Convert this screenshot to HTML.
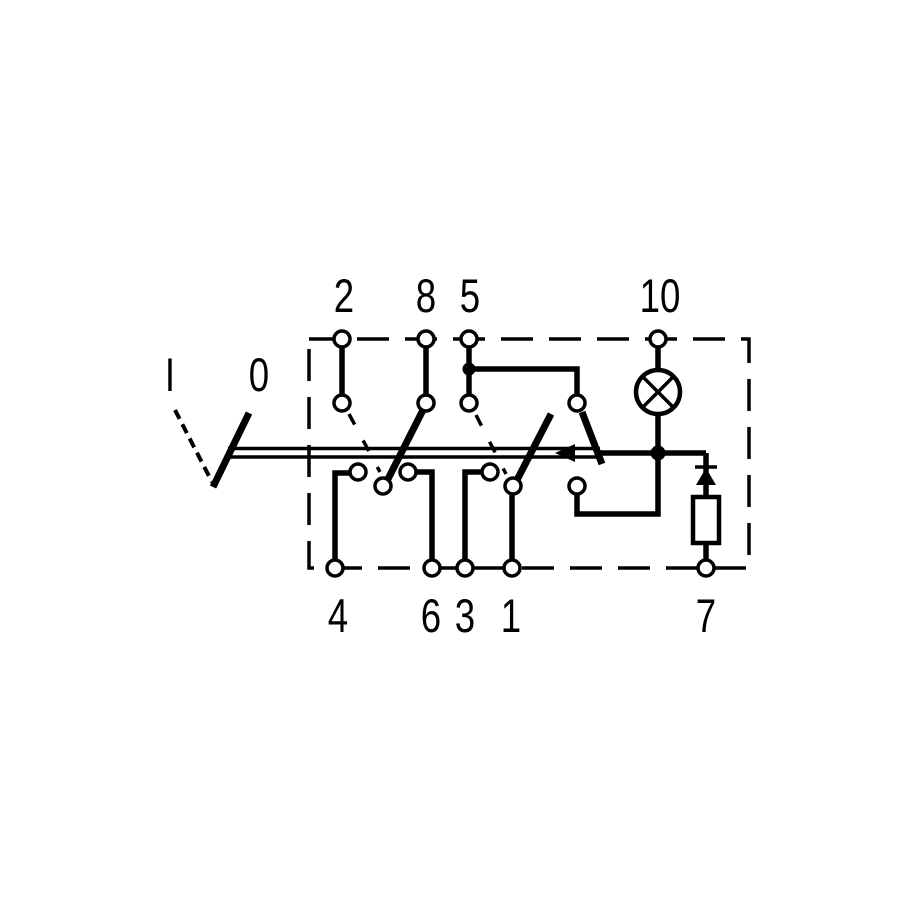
<!DOCTYPE html>
<html><head><style>html,body{margin:0;padding:0;background:#fff}</style></head><body>
<svg width="915" height="915" viewBox="0 0 915 915" xmlns="http://www.w3.org/2000/svg">
<g fill="none" stroke="#000">
<!-- border -->
<rect x="309" y="339" width="440" height="229" stroke-width="3.5" stroke-dasharray="32 16"/>
<!-- lever -->
<line x1="213" y1="487" x2="249" y2="413" stroke-width="7"/>
<line x1="175" y1="410" x2="212" y2="482" stroke-width="4" stroke-dasharray="10 6"/>
<!-- double line shaft -->
<line x1="228" y1="448.5" x2="600" y2="448.5" stroke-width="3.5"/>
<line x1="230" y1="457" x2="600" y2="457" stroke-width="3.5"/>
<!-- switch 1 -->
<line x1="342" y1="339" x2="342" y2="403" stroke-width="5.5"/>
<line x1="349" y1="414" x2="380" y2="472" stroke-width="3.5" stroke-dasharray="12 18"/>
<line x1="426" y1="339" x2="426" y2="403" stroke-width="5.5"/>
<line x1="423" y1="410" x2="387" y2="481" stroke-width="7"/>
<polyline points="357,473 335,473 335,568" stroke-width="5.5"/>
<polyline points="408,472 432,472 432,568" stroke-width="5.5"/>
<!-- switch 2 -->
<line x1="469" y1="339" x2="469" y2="403" stroke-width="5.5"/>
<polyline points="469,369 577,369 577,403" stroke-width="5.5"/>
<line x1="476" y1="415" x2="506" y2="474" stroke-width="3.5" stroke-dasharray="12 18"/>
<line x1="551" y1="414" x2="517" y2="480" stroke-width="7"/>
<polyline points="490,472 465,472 465,568" stroke-width="5.5"/>
<line x1="512" y1="485" x2="512" y2="568" stroke-width="5.5"/>
<!-- switch 3 -->
<line x1="582" y1="412" x2="602" y2="464" stroke-width="7"/>
<line x1="600" y1="453" x2="706" y2="453" stroke-width="5.5"/>
<polyline points="577,485 577,514 658,514 658,453" stroke-width="5.5"/>
<!-- lamp -->
<line x1="658" y1="339" x2="658" y2="453" stroke-width="5.5"/>
<circle cx="658" cy="392" r="22" fill="#fff" stroke-width="4.5"/>
<line x1="643" y1="377" x2="673" y2="407" stroke-width="3.5"/>
<line x1="673" y1="377" x2="643" y2="407" stroke-width="3.5"/>
<!-- diode & resistor -->
<line x1="706" y1="453" x2="706" y2="568" stroke-width="5.5"/>
<line x1="695" y1="467" x2="717" y2="467" stroke-width="3.5"/>
<rect x="693" y="497" width="26" height="46" fill="#fff" stroke-width="4.5"/>
</g>
<polygon points="706,468 696,485 716,485" fill="#000"/>
<polygon points="555,453 575,444 575,462" fill="#000"/>
<circle cx="469" cy="369" r="6.5" fill="#000"/>
<circle cx="658" cy="453" r="7.5" fill="#000"/>
<g fill="#fff" stroke="#000" stroke-width="3.5">
<circle cx="342" cy="339" r="8"/><circle cx="426" cy="339" r="8"/><circle cx="469" cy="339" r="8"/><circle cx="658" cy="339" r="8"/>
<circle cx="342" cy="403" r="8"/><circle cx="426" cy="403" r="8"/><circle cx="469" cy="403" r="8"/><circle cx="577" cy="403" r="8"/>
<circle cx="358" cy="472" r="8"/><circle cx="383" cy="486" r="8"/><circle cx="408" cy="472" r="8"/>
<circle cx="490" cy="472" r="8"/><circle cx="513" cy="486" r="8"/><circle cx="577" cy="486" r="8"/>
<circle cx="335" cy="568" r="8"/><circle cx="432" cy="568" r="8"/><circle cx="465" cy="568" r="8"/><circle cx="512" cy="568" r="8"/><circle cx="706" cy="568" r="8"/>
</g>
<g font-family="Liberation Sans, sans-serif" font-size="47" text-anchor="middle" fill="#000">
<text transform="translate(344,312) scale(0.78,1)">2</text>
<text transform="translate(426,312) scale(0.78,1)">8</text>
<text transform="translate(470,312) scale(0.78,1)">5</text>
<text transform="translate(660,312) scale(0.78,1)">10</text>
<text transform="translate(170,391) scale(0.78,1)">I</text>
<text transform="translate(259,391) scale(0.78,1)">0</text>
<text transform="translate(338,632) scale(0.78,1)">4</text>
<text transform="translate(431,632) scale(0.78,1)">6</text>
<text transform="translate(465,632) scale(0.78,1)">3</text>
<text transform="translate(511,632) scale(0.78,1)">1</text>
<text transform="translate(706,632) scale(0.78,1)">7</text>
</g>
</svg>
</body></html>
